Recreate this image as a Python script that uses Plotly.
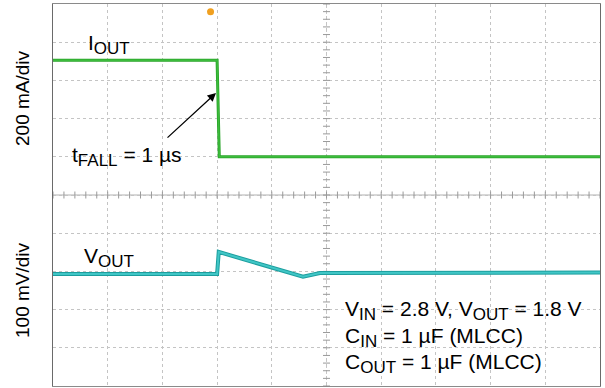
import plotly.graph_objects as go

# ---- data (time in scope divisions, signals relative to their baselines) ----
t_iout = [0.0, 3.0, 3.04, 10.0]
iout_mA = [505, 505, 0, 0]            # 200 mA/div

t_vout = [0.0, 3.0, 3.03, 4.57, 4.88, 10.0]
vout_mV = [0, 0, 58, -7, 3, 4]         # 100 mV/div

t_trigger = 2.88

IOUT_SCALE = 200.0
VOUT_SCALE = 100.0
IOUT_ZERO_DIV = 6.0
VOUT_ZERO_DIV = 2.93

FONT = "Arial, Liberation Sans, sans-serif"
GREEN = "#3cbc3c"
GREEN_DK = "#28a428"
CYAN = "#40c6c6"
CYAN_DK = "#1c9e9e"
FS = 21

fig = go.Figure()

# centre-line tick marks (scope graticule)
minor = [i / 5 for i in range(0, 51)]
fig.add_trace(go.Scatter(x=minor, y=[5] * len(minor), mode="markers",
                         marker=dict(symbol="line-ns", size=5, line=dict(color="#9a9a9a", width=1)),
                         hoverinfo="skip", showlegend=False))
fig.add_trace(go.Scatter(x=[5] * len(minor), y=minor, mode="markers",
                         marker=dict(symbol="line-ew", size=5, line=dict(color="#9a9a9a", width=1)),
                         hoverinfo="skip", showlegend=False))

# IOUT trace
fig.add_trace(go.Scatter(x=t_iout, y=iout_mA, yaxis="y2", mode="lines",
                         line=dict(color=GREEN_DK, width=3), hoverinfo="skip", showlegend=False))
fig.add_trace(go.Scatter(x=t_iout, y=iout_mA, yaxis="y2", mode="lines",
                         line=dict(color=GREEN, width=1.5), showlegend=False))

# VOUT trace
fig.add_trace(go.Scatter(x=t_vout, y=vout_mV, yaxis="y3", mode="lines",
                         line=dict(color=CYAN_DK, width=4), hoverinfo="skip", showlegend=False))
fig.add_trace(go.Scatter(x=t_vout, y=vout_mV, yaxis="y3", mode="lines",
                         line=dict(color=CYAN, width=2), showlegend=False))

# trigger marker
fig.add_trace(go.Scatter(x=[t_trigger], y=[9.8], mode="markers",
                         marker=dict(symbol="circle", size=7, color="#f0a020"),
                         cliponaxis=False, hoverinfo="skip", showlegend=False))

axis_common = dict(showticklabels=False, ticks="", zeroline=False)
fig.update_layout(
    width=605, height=388,
    margin=dict(l=53, r=5, t=4, b=2),
    paper_bgcolor="white", plot_bgcolor="white",
    font=dict(family=FONT, size=FS, color="black"),
    xaxis=dict(range=[0, 10], dtick=1, showgrid=True, gridcolor="#c4c4c4", griddash="dot",
               gridwidth=1, showline=True, linecolor="#8a8a8a", mirror=True, **axis_common),
    yaxis=dict(range=[0, 10], dtick=1, showgrid=True, gridcolor="#c4c4c4", griddash="dot",
               gridwidth=1, showline=True, linecolor="#6a6a6a", mirror=True, **axis_common),
    yaxis2=dict(overlaying="y",
                range=[-IOUT_ZERO_DIV * IOUT_SCALE, (10 - IOUT_ZERO_DIV) * IOUT_SCALE],
                showgrid=False, visible=False, **axis_common),
    yaxis3=dict(overlaying="y",
                range=[-VOUT_ZERO_DIV * VOUT_SCALE, (10 - VOUT_ZERO_DIV) * VOUT_SCALE],
                showgrid=False, visible=False, **axis_common),
)

# centre lines
fig.add_shape(type="line", xref="x", yref="y", x0=0, x1=10, y0=5, y1=5,
              line=dict(color="#b0b0b0", width=1), layer="below")
fig.add_shape(type="line", xref="x", yref="y", x0=5, x1=5, y0=0, y1=10,
              line=dict(color="#c8c8c8", width=1, dash="dot"), layer="below")

ann = []
def sub(s):
    return "<sub><span style='font-size:17px'>" + s + "</span></sub>"

def txt(x, y, s, xanchor="left", **kw):
    ann.append(dict(x=x, y=y, xref="paper", yref="paper", text=s, showarrow=False,
                    xanchor=xanchor, yanchor="middle", font=dict(family=FONT, size=FS, color="black"), **kw))

# paper coordinates: plot spans x 53..600 px, y 4..386 px
def px(xp):
    return (xp - 53) / 547.0
def py(yp):
    return (386 - yp) / 382.0

txt(px(86), py(45), "I" + sub("OUT"))
txt(px(82), py(257), "V" + sub("OUT"))
txt(px(70), py(156), "t" + sub("FALL") + " = 1 µs")
txt(px(343), py(310), "V" + sub("IN") + " = 2.8 V, V" + sub("OUT") + " = 1.8 V")
txt(px(343), py(337), "C" + sub("IN") + " = 1 µF (MLCC)")
txt(px(343), py(363), "C" + sub("OUT") + " = 1 µF (MLCC)")

ann.append(dict(x=px(22), y=py(98), xref="paper", yref="paper", text="200 mA/div", textangle=-90,
                showarrow=False, xanchor="center", yanchor="middle",
                font=dict(family=FONT, size=19, color="black")))
ann.append(dict(x=px(22), y=py(290), xref="paper", yref="paper", text="100 mV/div", textangle=-90,
                showarrow=False, xanchor="center", yanchor="middle",
                font=dict(family=FONT, size=19, color="black")))

# arrow pointing at the falling edge
ann.append(dict(x=px(216), y=py(93), ax=-50, ay=46, xref="paper", yref="paper",
                axref="pixel", ayref="pixel", text="", showarrow=True, arrowhead=2,
                arrowsize=1.3, arrowwidth=1.3, arrowcolor="black"))

fig.update_layout(annotations=ann)
fig.write_html("out.html", config={"displayModeBar": False},
               post_script="document.body.style.margin='0';")
